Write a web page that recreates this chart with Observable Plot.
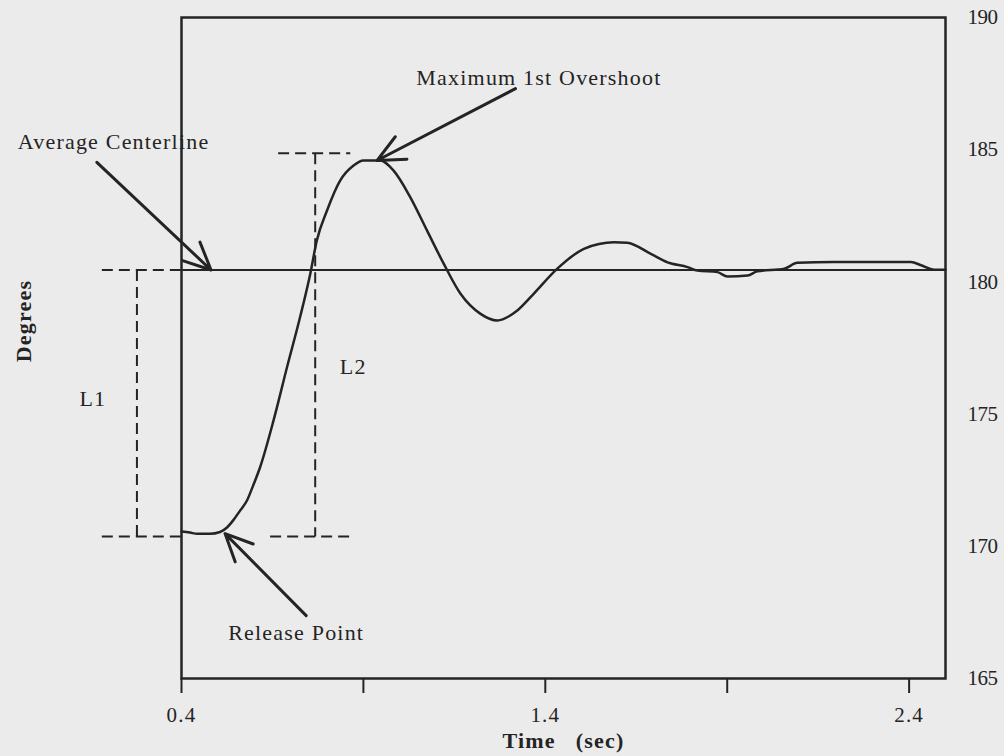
<!DOCTYPE html>
<html><head><meta charset="utf-8">
<script src="https://cdn.jsdelivr.net/npm/d3@7"></script>
<script src="https://cdn.jsdelivr.net/npm/@observablehq/plot@0.6"></script>
<style>
html,body{margin:0;padding:0;background:#ebebeb;}
#chart svg text{letter-spacing:1.2px;}
#chart svg g[aria-label="y-axis tick label"] text{letter-spacing:-0.5px;}
</style></head><body><div id="chart"></div>
<script>
// Response curve (time in sec, angle in degrees)
const timeSec = [0.40,0.423,0.443,0.478,0.506,0.525,0.542,0.561,0.580,0.597,0.616,0.653,0.690,0.726,0.754,0.772,0.800,0.836,0.873,0.900,0.946,0.983,1.029,1.075,1.121,1.167,1.222,1.268,1.323,1.368,1.433,1.506,1.589,1.625,1.690,1.736,1.791,1.818,1.873,1.901,1.956,1.983,2.057,2.093,2.194,2.405,2.433,2.469,2.50];
const degrees = [170.56,170.52,170.47,170.47,170.54,170.71,170.98,171.35,171.73,172.30,172.99,174.76,176.77,178.67,180.31,181.57,182.70,183.83,184.40,184.59,184.59,184.21,183.20,181.94,180.68,179.55,178.79,178.54,178.92,179.55,180.50,181.25,181.50,181.48,181.06,180.74,180.56,180.43,180.37,180.20,180.24,180.40,180.50,180.72,180.75,180.75,180.63,180.46,180.46];
const centerline = 180.45;

// Tick values and labels
const xTicks = [0.4, 0.9, 1.4, 1.9, 2.4];
const xTickLabels = ["0.4", "", "1.4", "", "2.4"];
const yTicks = [165, 170, 175, 180, 185, 190];

// Dashed L1 / L2 construction lines
const dashX1 = [0.181, 0.2775, 0.181, 0.6656, 0.7675, 0.6436];
const dashY1 = [180.45, 180.45, 170.37, 184.87, 184.87, 170.37];
const dashX2 = [0.40, 0.2775, 0.40, 0.8638, 0.7675, 0.8638];
const dashY2 = [180.45, 170.37, 170.37, 184.87, 170.37, 170.37];

// Annotation arrows
const arrowX1 = [0.1674, 1.318, 0.7427];
const arrowY1 = [184.52, 187.31, 167.38];
const arrowX2 = [0.4812, 0.9373, 0.5197];
const arrowY2 = [180.45, 184.59, 170.48];

// Annotation labels
const noteText = ["Average Centerline", "Maximum 1st Overshoot", "Release Point", "L1", "L2"];
const noteX = [-0.05, 1.0455, 0.7152, 0.1564, 0.872];
const noteY = [185.31, 187.73, 166.74, 175.59, 176.80];
const noteAnchor = ["start", "start", "middle", "middle", "middle"];

const curve = timeSec.map((t, i) => ({t, v: degrees[i]}));
const dashes = dashX1.map((x, i) => ({x1: x, y1: dashY1[i], x2: dashX2[i], y2: dashY2[i]}));
const arrows = arrowX1.map((x, i) => ({x1: x, y1: arrowY1[i], x2: arrowX2[i], y2: arrowY2[i]}));
const notes = noteText.map((s, i) => ({s, x: noteX[i], y: noteY[i], a: noteAnchor[i]}));
const labelMap = new Map(xTicks.map((d, i) => [d.toFixed(1), xTickLabels[i]]));

const ink = "#242424";
const chart = Plot.plot({
  width: 1004, height: 756,
  marginLeft: 181, marginRight: 59, marginTop: 17, marginBottom: 78,
  style: {background: "#ebebeb", fontFamily: "Liberation Serif", fontSize: "22px", color: ink},
  x: {domain: [0.4, 2.5]},
  y: {domain: [165, 190]},
  marks: [
    Plot.ruleY([centerline], {x1: 0.4, x2: 2.5, stroke: ink, strokeWidth: 2}),
    Plot.link(dashes, {x1: "x1", y1: "y1", x2: "x2", y2: "y2", stroke: ink, strokeWidth: 2, strokeDasharray: "11,6"}),
    Plot.line(curve, {x: "t", y: "v", stroke: ink, strokeWidth: 2.5, curve: "monotone-x"}),
    Plot.arrow(arrows, {x1: "x1", y1: "y1", x2: "x2", y2: "y2", stroke: ink, strokeWidth: 3, headLength: 15, headAngle: 50}),
    Plot.text(notes.filter(d => d.a === "start"), {x: "x", y: "y", text: "s", textAnchor: "start", fill: ink, fontSize: 22}),
    Plot.text(notes.filter(d => d.a === "middle"), {x: "x", y: "y", text: "s", textAnchor: "middle", fill: ink, fontSize: 22}),
    Plot.frame({stroke: ink, strokeWidth: 2.5}),
    Plot.axisX({ticks: xTicks, tickSize: 15, tickPadding: 14, tickFormat: d => labelMap.get(d.toFixed(1)), label: null, stroke: ink, strokeWidth: 2, fontSize: 21}),
    Plot.axisY({anchor: "right", ticks: yTicks, tickSize: 0, tickPadding: 22, label: null, fontSize: 21}),
    Plot.text(["Time\u00a0\u00a0\u00a0(sec)"], {frameAnchor: "bottom", dy: 69, fontWeight: "bold", fontSize: 22, fill: ink}),
    Plot.text(["Degrees"], {frameAnchor: "left", textAnchor: "middle", dx: -158, dy: -27, rotate: -90, fontWeight: "bold", fontSize: 22, fill: ink, style: "letter-spacing:3px"})
  ]
});
document.getElementById("chart").append(chart);
</script></body></html>
